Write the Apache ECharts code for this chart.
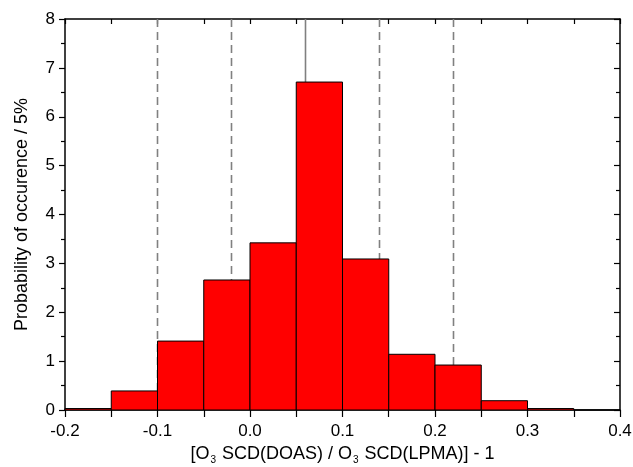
<!DOCTYPE html>
<html>
<head>
<meta charset="utf-8">
<script src="https://cdn.jsdelivr.net/npm/echarts@6/dist/echarts.min.js"></script>
<style>
  html, body { margin: 0; padding: 0; background: #fff; }
  #chart { width: 633px; height: 467px; }
</style>
</head>
<body>
<div id="chart"></div>
<script>
const fontFam = "'Liberation Sans', Arial, sans-serif"

// histogram bins (left edge), width 0.05
const binStart = [-0.2, -0.15, -0.1, -0.05, 0.0, 0.05, 0.1, 0.15, 0.2, 0.25, 0.3, 0.35]
const binWidth = 0.05
const prob = [0.03, 0.39, 1.41, 2.66, 3.42, 6.71, 3.09, 1.14, 0.92, 0.19, 0.03, 0]

// reference lines (drawn behind the bars)
const dashedMarks = [-0.1, -0.02, 0.14, 0.22]
const solidMarks = [0.06]

const chart = echarts.init(document.getElementById('chart'))

const histData = binStart.map((s, i) => [s, s + binWidth, prob[i]])
const lineData = [
  ...dashedMarks.map(v => [v, 1]),
  ...solidMarks.map(v => [v, 0]),
]

const axisLine = { show: true, onZero: false, lineStyle: { color: '#000', width: 1.5 } }
const tickStyle = { color: '#000', width: 1.2 }

chart.setOption({
  animation: false,
  grid: { left: 65, right: 13, top: 19, bottom: 57, outerBoundsMode: 'none' },
  xAxis: [
    {
      type: 'value',
      position: 'bottom',
      min: -0.2,
      max: 0.4,
      interval: 0.1,
      axisLine,
      axisTick: { show: true, length: 7, lineStyle: tickStyle },
      minorTick: { show: true, splitNumber: 2, length: 7, lineStyle: tickStyle },
      splitLine: { show: false },
      axisLabel: {
        color: '#000', fontSize: 17, fontFamily: fontFam, margin: 13,
        formatter: v => v.toFixed(1),
      },
      name: '[O{sub|3} SCD(DOAS) / O{sub|3} SCD(LPMA)] - 1',
      nameLocation: 'middle',
      nameGap: 32,
      nameTextStyle: {
        color: '#000', fontSize: 18, fontFamily: fontFam,
        rich: {
          sub: { fontSize: 10, fontFamily: fontFam, color: '#000', verticalAlign: 'bottom', padding: [12, 1, 0, 1] },
        },
      },
    },
    {
      type: 'value',
      position: 'top',
      min: -0.2,
      max: 0.4,
      interval: 0.1,
      axisLine,
      axisTick: { show: true, inside: true, length: 5, lineStyle: tickStyle },
      minorTick: { show: true, splitNumber: 2, length: 5, lineStyle: tickStyle },
      splitLine: { show: false },
      axisLabel: { show: false },
    },
  ],
  yAxis: [
    {
      type: 'value',
      position: 'left',
      min: 0,
      max: 8,
      interval: 1,
      axisLine,
      axisTick: { show: true, length: 6, lineStyle: tickStyle },
      minorTick: { show: true, splitNumber: 2, length: 4, lineStyle: tickStyle },
      splitLine: { show: false },
      axisLabel: { color: '#000', fontSize: 17, fontFamily: fontFam, margin: 10 },
      name: 'Probability of occurence / 5%',
      nameLocation: 'middle',
      nameGap: 34,
      nameTextStyle: { color: '#000', fontSize: 18, fontFamily: fontFam },
    },
    {
      type: 'value',
      position: 'right',
      min: 0,
      max: 8,
      interval: 1,
      axisLine,
      axisTick: { show: true, inside: true, length: 6, lineStyle: tickStyle },
      minorTick: { show: true, splitNumber: 2, length: 4, lineStyle: tickStyle },
      splitLine: { show: false },
      axisLabel: { show: false },
    },
  ],
  series: [
    {
      type: 'custom',
      z: 1,
      silent: true,
      data: lineData,
      encode: { x: 0 },
      renderItem: (params, api) => {
        const top = api.coord([api.value(0), 8])
        const bottom = api.coord([api.value(0), 0])
        return {
          type: 'line',
          shape: { x1: top[0], y1: top[1], x2: bottom[0], y2: bottom[1] },
          style: {
            stroke: '#808080',
            lineWidth: 1.6,
            lineDash: api.value(1) ? [8, 5] : null,
          },
        }
      },
    },
    {
      type: 'custom',
      z: 2,
      data: histData,
      encode: { x: [0, 1], y: 2 },
      renderItem: (params, api) => {
        const p0 = api.coord([api.value(0), api.value(2)])
        const p1 = api.coord([api.value(1), 0])
        return {
          type: 'rect',
          shape: { x: p0[0], y: p0[1], width: p1[0] - p0[0], height: p1[1] - p0[1] },
          style: { fill: '#ff0000', stroke: '#000', lineWidth: 1 },
        }
      },
    },
  ],
})
</script>
</body>
</html>
